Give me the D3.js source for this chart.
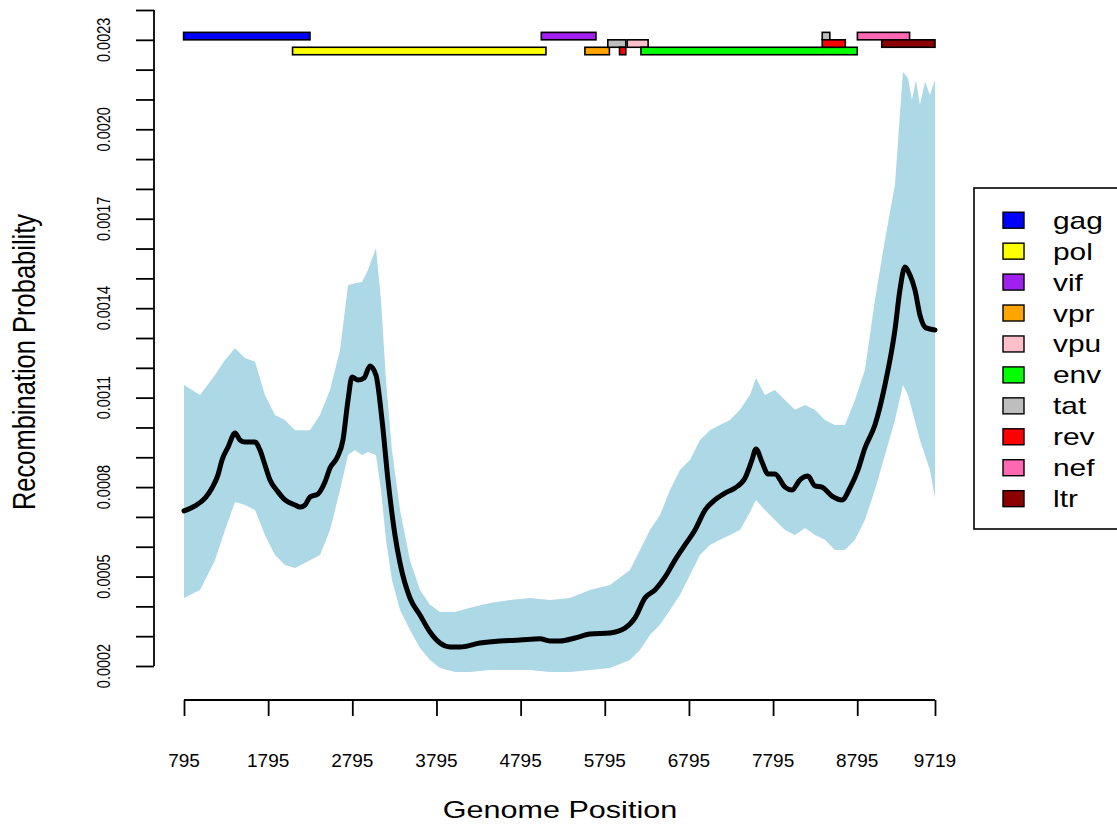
<!DOCTYPE html>
<html>
<head>
<meta charset="utf-8">
<script src="https://cdn.jsdelivr.net/npm/d3@7"></script>
<style>
  body { margin: 0; background: #fff; }
  svg { display: block; font-family: "Liberation Sans", Arial, sans-serif; }
</style>
</head>
<body>
<div id="chart"></div>
<script>
// mean recombination probability along the genome
var meanPos = [795, 926, 1045, 1128, 1199, 1247, 1318, 1401, 1460, 1520, 1639, 1698, 1757, 1817, 1912, 1995,
  2114, 2173, 2233, 2292, 2387, 2470, 2530, 2613, 2684, 2744, 2791, 2862, 2934, 3005, 3076, 3148, 3219,
  3302, 3362, 3480, 3599, 3718, 3837, 3956, 4074, 4312, 4550, 4787, 5025, 5144, 5263, 5441, 5619, 5857,
  6035, 6154, 6272, 6391, 6510, 6629, 6748, 6867, 6986, 7104, 7223, 7342, 7461, 7544, 7592, 7663, 7734,
  7817, 7936, 8019, 8114, 8209, 8292, 8376, 8495, 8614, 8708, 8803, 8886, 9005, 9124, 9243, 9302, 9362,
  9421, 9481, 9540, 9612, 9719];
var meanProb = [7.20, 7.37, 7.63, 7.97, 8.41, 8.91, 9.34, 9.81, 9.58, 9.51, 9.51, 9.24, 8.74, 8.24, 7.84, 7.57,
  7.40, 7.33, 7.40, 7.67, 7.77, 8.17, 8.64, 8.98, 9.58, 10.92, 11.69, 11.59, 11.66, 12.06, 11.76, 10.25, 8.24,
  6.39, 5.45, 4.28, 3.71, 3.14, 2.77, 2.64, 2.64, 2.77, 2.84, 2.87, 2.91, 2.84, 2.84, 2.94, 3.07, 3.11,
  3.27, 3.61, 4.28, 4.55, 4.98, 5.55, 6.06, 6.56, 7.23, 7.57, 7.80, 7.97, 8.30, 8.91, 9.28, 8.84, 8.44,
  8.44, 8.00, 7.90, 8.24, 8.37, 8.04, 8.00, 7.70, 7.57, 7.97, 8.57, 9.31, 10.08, 11.42, 13.27, 14.61, 15.38,
  15.11, 14.61, 13.77, 13.34, 13.27].map(function(v) { return v * 1e-4; });

// credible band
var bandPos = [795, 985, 1163, 1282, 1401, 1520, 1639, 1757, 1876, 1995, 2114, 2292, 2411, 2530, 2649, 2744,
  2827, 2910, 2981, 3076, 3136, 3195, 3266, 3362, 3480, 3599, 3718, 3837, 4015, 4193, 4431, 4669, 4906,
  5144, 5381, 5619, 5857, 6094, 6213, 6332, 6451, 6570, 6688, 6807, 6926, 7045, 7164, 7283, 7401, 7520,
  7592, 7698, 7817, 7936, 8055, 8174, 8292, 8411, 8530, 8649, 8768, 8886, 9005, 9124, 9243, 9338, 9398,
  9445, 9493, 9540, 9600, 9659, 9719];
var bandUpper = [11.42, 11.09, 11.76, 12.26, 12.66, 12.33, 12.20, 11.09, 10.42, 10.25, 9.91, 9.91, 10.42, 11.26,
  12.60, 14.78, 14.84, 14.88, 15.28, 16.02, 14.27, 11.59, 9.24, 7.23, 5.55, 4.55, 4.05, 3.81, 3.81, 3.95,
  4.11, 4.21, 4.28, 4.21, 4.28, 4.55, 4.72, 5.22, 5.89, 6.56, 7.06, 7.90, 8.57, 8.91, 9.58, 9.91, 10.08,
  10.25, 10.59, 11.09, 11.66, 11.09, 11.26, 10.92, 10.59, 10.75, 10.59, 10.25, 10.08, 10.08, 10.92, 11.93,
  14.27, 16.29, 18.13, 21.92, 21.72, 20.98, 21.65, 20.81, 21.59, 21.15, 21.65].map(function(v) { return v * 1e-4; });
var bandLower = [4.28, 4.55, 5.55, 6.56, 7.50, 7.40, 7.23, 6.39, 5.72, 5.39, 5.29, 5.55, 5.72, 6.56, 7.90, 9.08,
  9.24, 9.08, 9.18, 9.08, 7.90, 6.23, 4.88, 3.88, 3.21, 2.60, 2.20, 1.93, 1.80, 1.80, 1.87, 1.87, 1.87,
  1.80, 1.80, 1.87, 1.93, 2.20, 2.54, 3.04, 3.38, 3.88, 4.38, 5.05, 5.72, 6.06, 6.23, 6.39, 6.56, 7.16,
  7.57, 7.23, 6.90, 6.56, 6.39, 6.63, 6.39, 6.23, 5.89, 5.89, 6.23, 6.90, 7.90, 9.08, 10.25, 11.42, 11.09,
  10.59, 10.08, 9.58, 9.08, 8.57, 7.63].map(function(v) { return v * 1e-4; });

// gene map
var geneNames = ["gag", "pol", "vif", "vpr", "vpu", "env", "tat", "rev", "nef", "ltr"];
var geneColors = ["#0000FF", "#FFFF00", "#A020F0", "#FFA500", "#FFC0CB", "#00FF00", "#BEBEBE", "#FF0000", "#FF69B4", "#8B0000"];
var segGene  = ["gag", "pol", "vif", "vpr", "tat", "rev", "vpu", "env", "tat", "rev", "nef", "ltr"];
var segStart = [790, 2085, 5041, 5559, 5831, 5970, 6062, 6225, 8379, 8379, 8797, 9086];
var segEnd   = [2292, 5096, 5690, 5850, 6045, 6045, 6310, 8795, 8469, 8653, 9417, 9719];
var segRow   = [0, 2, 0, 2, 1, 2, 1, 2, 0, 1, 0, 1];
var rowTop = [0.002325, 0.0023, 0.002275];
var rowHeight = 0.000025;

var xTicks = [795, 1795, 2795, 3795, 4795, 5795, 6795, 7795, 8795, 9719];
var yTicks = d3.range(2, 25).map(function(v) { return v * 1e-4; });
var yLabels = [0.0002, 0.0005, 0.0008, 0.0011, 0.0014, 0.0017, 0.0020, 0.0023];

var width = 1117, height = 827;
var svg = d3.select("#chart").append("svg").attr("width", width).attr("height", height);

var x = d3.scaleLinear().domain([795, 9719]).range([184, 935]);
var y = d3.scaleLinear().domain([0.0002, 0.0024]).range([666, 10]);

// band
var bandData = bandPos.map(function(p, i) { return {p: p, lo: bandLower[i], hi: bandUpper[i]}; });
svg.append("path")
  .datum(bandData)
  .attr("fill", "#ADD8E6")
  .attr("d", d3.area().x(function(d) { return x(d.p); })
    .y0(function(d) { return y(d.lo); })
    .y1(function(d) { return y(d.hi); }));

// mean line
var meanData = meanPos.map(function(p, i) { return {p: p, v: meanProb[i]}; });
svg.append("path")
  .datum(meanData)
  .attr("fill", "none")
  .attr("stroke", "#000")
  .attr("stroke-width", 5)
  .attr("stroke-linejoin", "round")
  .attr("stroke-linecap", "round")
  .attr("d", d3.line().curve(d3.curveMonotoneX)
    .x(function(d) { return x(d.p); })
    .y(function(d) { return y(d.v); }));

// gene boxes along the top
var colorOf = d3.scaleOrdinal().domain(geneNames).range(geneColors);
svg.append("g").selectAll("rect")
  .data(segGene)
  .enter().append("rect")
  .attr("x", function(d, i) { return x(segStart[i]); })
  .attr("width", function(d, i) { return x(segEnd[i]) - x(segStart[i]); })
  .attr("y", function(d, i) { return y(rowTop[segRow[i]]); })
  .attr("height", function(d, i) { return y(rowTop[segRow[i]] - rowHeight) - y(rowTop[segRow[i]]); })
  .attr("fill", function(d) { return colorOf(d); })
  .attr("stroke", "#000")
  .attr("stroke-width", 1.6);

// y axis
var yAxis = svg.append("g").attr("transform", "translate(154,0)")
  .call(d3.axisLeft(y).tickValues(yTicks).tickSize(18).tickFormat(""));
yAxis.select(".domain").attr("d", "M0," + y(0.0024) + "V" + y(0.0002));
yAxis.selectAll("line, path").attr("stroke", "#000").attr("stroke-width", 1.8);
svg.append("g").selectAll("g")
  .data(yLabels)
  .enter().append("g")
  .attr("transform", function(d) { return "translate(110," + y(d) + ") scale(1.3,1) rotate(-90)"; })
  .append("text")
  .attr("text-anchor", "middle")
  .attr("font-size", 14.5)
  .text(function(d) { return d3.format(".4f")(d); });

// x axis
var xAxis = svg.append("g").attr("transform", "translate(0,700)")
  .call(d3.axisBottom(x).tickValues(xTicks).tickSize(16).tickFormat(""));
xAxis.select(".domain").attr("d", "M" + x(795) + ",0H" + x(9719));
xAxis.selectAll("line, path").attr("stroke", "#000").attr("stroke-width", 1.8);
svg.append("g").selectAll("text")
  .data(xTicks)
  .enter().append("text")
  .attr("x", function(d) { return x(d); })
  .attr("y", 767)
  .attr("text-anchor", "middle")
  .attr("font-size", 19)
  .text(function(d) { return d; });

// axis titles
svg.append("g").attr("transform", "translate(560,818) scale(1.3,1)")
  .append("text").attr("text-anchor", "middle").attr("font-size", 23.5).text("Genome Position");
svg.append("g").attr("transform", "translate(35,362) scale(1.25,1) rotate(-90)")
  .append("text").attr("text-anchor", "middle").attr("font-size", 25.5).text("Recombination Probability");

// legend
var legend = svg.append("g");
legend.append("rect")
  .attr("x", 974).attr("y", 188).attr("width", 160).attr("height", 341)
  .attr("fill", "#fff").attr("stroke", "#000").attr("stroke-width", 1.6);
var item = legend.selectAll("g.item")
  .data(geneNames)
  .enter().append("g").attr("class", "item")
  .attr("transform", function(d, i) { return "translate(0," + (220.2 + i * 30.94) + ")"; });
item.append("rect")
  .attr("x", 1003).attr("y", -8).attr("width", 21).attr("height", 16)
  .attr("fill", function(d) { return colorOf(d); })
  .attr("stroke", "#000").attr("stroke-width", 1.4);
item.append("g").attr("transform", "translate(1053,8.5) scale(1.3,1)")
  .append("text").attr("font-size", 23).text(function(d) { return d; });
</script>
</body>
</html>
